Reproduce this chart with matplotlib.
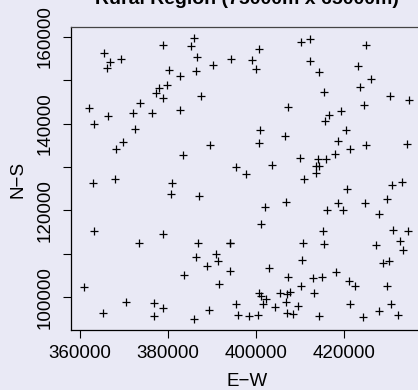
import matplotlib
matplotlib.use("Agg")
import matplotlib.pyplot as plt

# site coordinates (metres), easting / northing
east = [
    385900, 378800, 385200, 365500, 366800, 366200, 369200, 386500, 390300, 394300,
    380200, 386400, 382700, 379800, 377900, 377200, 378900, 387400, 373700, 362000,
    363100, 366400, 372000, 376300, 382800, 372500, 369800, 368100, 389600, 383500,
    395500, 410200, 412300, 425100, 400700, 399100, 399900, 412300, 414400, 423300,
    426200, 423700, 415500, 430500, 434700, 407300, 424500, 419400, 416700, 415700,
    401000, 420500, 400700, 406700, 418600, 421400, 425000, 434400, 410000, 414000,
    415900, 418000, 403700, 413700, 414400, 397700, 413600, 410900, 420600, 430900,
    433300, 402000, 406800, 416100, 418700, 419800, 424800, 429900, 428000, 401100,
    415200, 431100, 434500, 394100, 394000, 410700, 415500, 427200, 432700, 433500,
    410500, 428900, 430300, 394200, 403000, 407300, 413000, 415000, 418200, 421100,
    422500, 429900, 410300, 400800, 401100, 402200, 401500, 405500, 407000, 407700,
    406800, 413200, 404300, 409500, 395500, 421500, 430800, 396000, 398400, 400500,
    407100, 408500, 414300, 424300, 428000, 432300, 363000, 368000, 380800, 380600,
    387000, 363200, 373300, 378900, 386900, 386400, 390900, 391400, 388800, 383700,
    391700, 361000, 370400, 376800, 378900, 389400, 365300, 376800, 386000,
]
north = [
    159700, 158100, 157900, 156200, 154200, 152700, 154900, 155300, 153500, 154900,
    152300, 152100, 151000, 148900, 148100, 147000, 145800, 146400, 144800, 143600,
    139900, 141700, 142400, 142400, 143100, 138800, 135800, 134100, 135100, 132800,
    130100, 158700, 159500, 158100, 157200, 154600, 152600, 154400, 151900, 153300,
    150300, 148400, 147300, 146400, 145400, 143800, 144300, 143000, 142000, 140700,
    138500, 138500, 135500, 137100, 136000, 134200, 135100, 135300, 132100, 131900,
    131900, 133000, 130500, 130200, 130200, 128400, 128600, 127200, 124900, 125900,
    126500, 120800, 121900, 120100, 121700, 120100, 121700, 122600, 119200, 116900,
    115300, 115500, 115300, 112400, 112400, 112500, 112300, 112000, 113000, 110900,
    108600, 107900, 108400, 106100, 106700, 104700, 104400, 104700, 105800, 103800,
    102600, 102600, 102600, 100900, 100400, 99500, 98500, 100900, 100800, 101200,
    98900, 100900, 97800, 98000, 98500, 98500, 98500, 95900, 95700, 95900,
    96500, 96100, 95700, 95400, 96800, 95900, 126300, 127200, 126300, 123800,
    123300, 115200, 112500, 114600, 112500, 109300, 110000, 108400, 107200, 105100,
    103100, 102400, 98900, 98700, 97500, 97100, 96400, 95700, 95100,
]

bg = "#e9e9f5"
plt.rcParams["font.family"] = ["Liberation Sans", "DejaVu Sans"]

fig = plt.figure(figsize=(4.18, 3.90), dpi=100, facecolor=bg)
ax = fig.add_axes([0.1706, 0.1538, 0.8414, 0.7762], facecolor=bg)

ax.plot(east, north, linestyle="none", marker="+", markersize=6,
        markeredgewidth=0.9, color="black")

ax.set_xlim(358000, 438000)
ax.set_ylim(92470, 162170)

ax.set_xticks([360000, 380000, 400000, 420000])
ax.set_xticklabels(["360000", "380000", "400000", "420000"])
yt = [100000, 110000, 120000, 130000, 140000, 150000, 160000]
ax.set_yticks(yt)
ax.set_yticklabels([str(v) if v % 20000 == 0 else "" for v in yt],
                   rotation=90, va="center")

ax.tick_params(axis="both", direction="out", length=5.5, width=0.8,
               labelsize=13.5, color="black")
ax.tick_params(axis="x", pad=5.5)
ax.tick_params(axis="y", pad=7)

for s in ax.spines.values():
    s.set_linewidth(0.9)
    s.set_color("black")
ax.spines["top"].set_color("#444444")

fig.text(247 / 418, 1 - 4 / 390, "Rural Region (75000m x 65000m)",
         ha="center", va="baseline", fontsize=14, fontweight="bold")
fig.text(247 / 418, 1 - 381 / 390, "E\u2212W", ha="center", va="center",
         fontsize=13.5)
fig.text(18 / 418, 1 - 179 / 390, "N\u2212S", ha="center", va="center",
         rotation=90, fontsize=13.5)

fig.savefig("out.png", dpi=100, facecolor=bg)
